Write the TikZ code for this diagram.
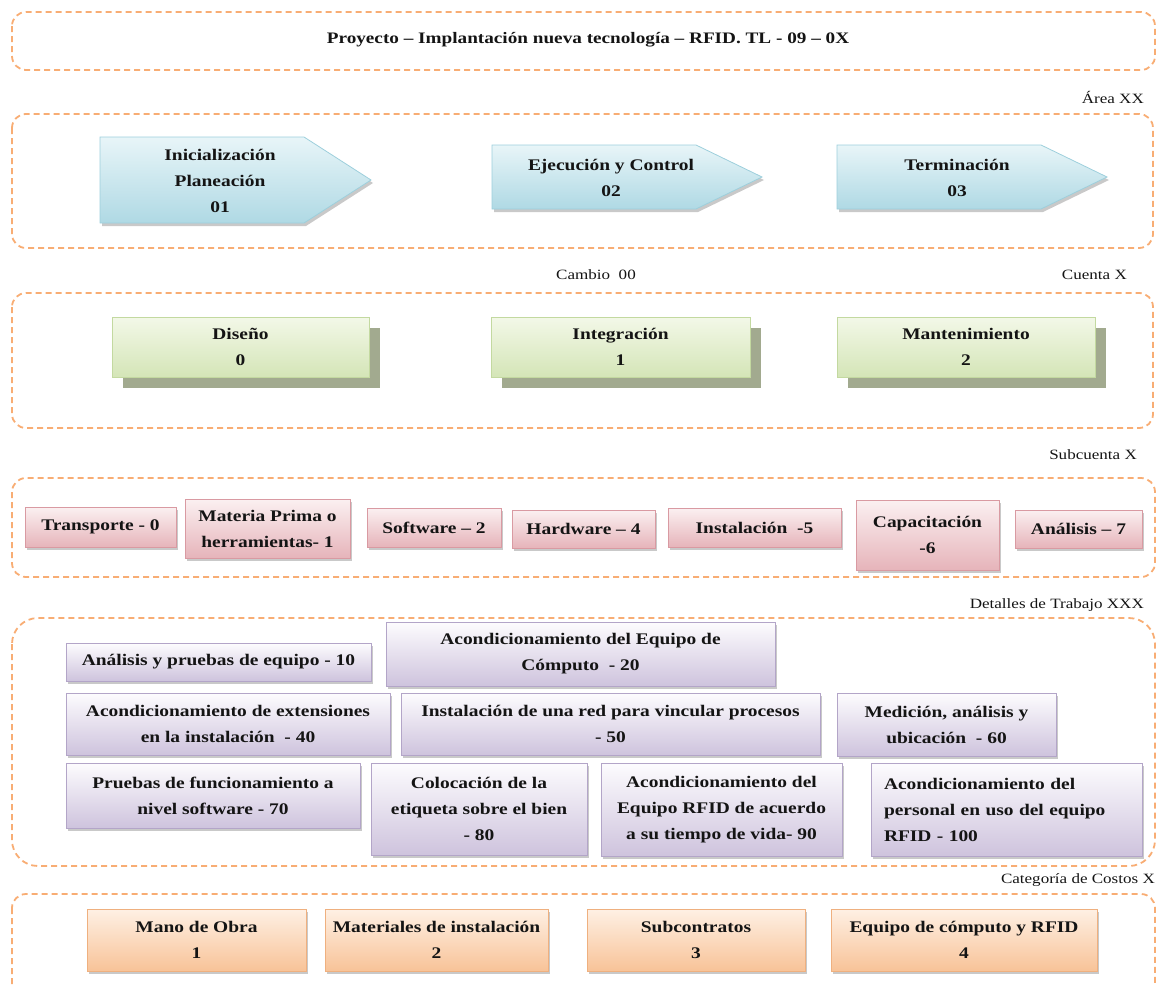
\documentclass[tikz,border=0pt]{standalone}
\usepackage{fontspec}
\setmainfont{Liberation Serif}[FakeStretch=1.2]
\usetikzlibrary{shadows}

\definecolor{bandorange}{HTML}{F8AD74}
\definecolor{inkc}{HTML}{141414}
\definecolor{bluetop}{HTML}{E8F5F8}
\definecolor{bluebot}{HTML}{AFD9E4}
\definecolor{blueline}{HTML}{9DCFDC}
\definecolor{greentop}{HTML}{F3F8E8}
\definecolor{greenbot}{HTML}{D4E5B7}
\definecolor{greenline}{HTML}{C3D9A0}
\definecolor{greenshade}{HTML}{A2AA8F}
\definecolor{pinktop}{HTML}{FBF0F1}
\definecolor{pinkbot}{HTML}{E6B4BA}
\definecolor{pinkline}{HTML}{D99AA2}
\definecolor{purptop}{HTML}{FDFCFE}
\definecolor{purpbot}{HTML}{CEC3DD}
\definecolor{purpline}{HTML}{B3A5C8}
\definecolor{orgtop}{HTML}{FEF0E4}
\definecolor{orgbot}{HTML}{F8C398}
\definecolor{orgline}{HTML}{EFB07F}

% box from its corners: style, name, x1, y1, x2, y2, text
\newcommand\wbsbox[7]{%
  \node[#1, minimum width={#5-#3}, minimum height={#6-#4}] (#2)
    at ({(#3+#5)/2},{(#4+#6)/2}) {#7};}

\tikzset{
  band/.style={draw=bandorange, line width=1.8pt, dash pattern=on 6pt off 4pt,
    rounded corners=14pt},
  boxtext/.style={font=\fontsize{16.2}{26}\selectfont\bfseries, text=inkc,
    align=center, inner sep=0pt},
  titletext/.style={boxtext, font=\fontsize{16}{26}\selectfont\bfseries},
  tag/.style={font=\fontsize{14.2}{16}\selectfont, text=inkc, inner sep=0pt},
  softshadow/.style={drop shadow={shadow xshift=2pt, shadow yshift=-3pt,
    opacity=0.3, fill=black!70}},
  bluechev/.style={top color=bluetop, bottom color=bluebot, draw=blueline,
    line width=0.8pt, softshadow},
  greenbox/.style={boxtext, top color=greentop, bottom color=greenbot,
    draw=greenline, line width=0.8pt,
    drop shadow={shadow xshift=11pt, shadow yshift=-11pt, fill=greenshade,
      opacity=1}},
  pinkbox/.style={boxtext, top color=pinktop, bottom color=pinkbot,
    draw=pinkline, line width=0.8pt, softshadow},
  purpbox/.style={boxtext, top color=purptop, bottom color=purpbot,
    draw=purpline, line width=0.8pt, softshadow},
  orgbox/.style={boxtext, top color=orgtop, bottom color=orgbot,
    draw=orgline, line width=0.8pt, softshadow},
}

\begin{document}
\begin{tikzpicture}[x=1pt, y=-1pt]
\useasboundingbox (0,0) rectangle (1158,985);
\clip (0,0) rectangle (1158,985);

% project
\draw[band] (12,12) rectangle (1155,70);
\node[titletext] (proyecto) at (588,40)
  {Proyecto – Implantación nueva tecnología – RFID. TL - 09 – 0X};

% phases
\node[tag, anchor=east] (area) at (1144,97) {Área XX};
\draw[band] (12,114) rectangle (1153,248);
\path[bluechev] (100,137) -- (304,137) -- (371,180) -- (304,223) -- (100,223) -- cycle;
\path[bluechev] (492,145) -- (696,145) -- (762,177) -- (696,209) -- (492,209) -- cycle;
\path[bluechev] (837,145) -- (1041,145) -- (1107,177) -- (1041,209) -- (837,209) -- cycle;
\node[boxtext] (fase1) at (220,181) {Inicialización\\Planeación\\01};
\node[boxtext] (fase2) at (611,178) {Ejecución y Control\\02};
\node[boxtext] (fase3) at (957,178) {Terminación\\03};

% accounts
\node[tag] (cambio) at (596,275) {Cambio\ \ 00};
\node[tag, anchor=east] (cuenta) at (1127,275) {Cuenta X};
\draw[band] (12,293) rectangle (1153,428);
\wbsbox{greenbox}{diseno}{112}{317}{369}{377}{Diseño\\0}
\wbsbox{greenbox}{integracion}{491}{317}{750}{377}{Integración\\1}
\wbsbox{greenbox}{mantenimiento}{837}{317}{1095}{377}{Mantenimiento\\2}

% sub-accounts
\node[tag, anchor=east] (subcuenta) at (1137,455) {Subcuenta X};
\draw[band] (12,478) rectangle (1155,577);
\wbsbox{pinkbox}{s0}{25}{507}{176}{547}{Transporte - 0}
\wbsbox{pinkbox}{s1}{185}{499}{350}{558}{Materia Prima o\\herramientas- 1}
\wbsbox{pinkbox}{s2}{367}{508}{501}{547}{Software – 2}
\wbsbox{pinkbox}{s4}{512}{510}{655}{548}{Hardware – 4}
\wbsbox{pinkbox}{s5}{668}{508}{841}{547}{Instalación~ -5}
\wbsbox{pinkbox}{s6}{856}{500}{999}{570}{Capacitación\\-6}
\wbsbox{pinkbox}{s7}{1015}{510}{1142}{548}{Análisis – 7}

% work details
\node[tag, anchor=east] (detalles) at (1144,605) {Detalles de Trabajo XXX};
\draw[band, rounded corners=26pt] (12,618) rectangle (1155,866);
\wbsbox{purpbox}{t10}{66}{643}{371}{681}{Análisis y pruebas de equipo - 10}
\wbsbox{purpbox}{t20}{386}{622}{775}{686}{Acondicionamiento del Equipo de\\Cómputo~ - 20}
\wbsbox{purpbox}{t40}{66}{693}{390}{755}{Acondicionamiento de extensiones\\en la instalación~ - 40}
\wbsbox{purpbox}{t50}{401}{693}{820}{755}{Instalación de una red para vincular procesos\\- 50}
\wbsbox{purpbox}{t60}{837}{693}{1056}{756}{Medición, análisis y\\ubicación~ - 60}
\wbsbox{purpbox}{t70}{66}{763}{360}{828}{Pruebas de funcionamiento a\\nivel software - 70}
\wbsbox{purpbox}{t80}{371}{763}{587}{855}{Colocación de la\\etiqueta sobre el bien\\- 80}
\wbsbox{purpbox}{t90}{601}{763}{842}{856}{Acondicionamiento del\\Equipo RFID de acuerdo\\a su tiempo de vida- 90}
\wbsbox{purpbox, align=left, text width=245pt}{t100}{871}{763}{1142}{856}%
  {Acondicionamiento del\\personal en uso del equipo\\RFID - 100}

% cost categories
\node[tag, anchor=east] (categoria) at (1155,880) {Categoría de Costos X};
\draw[band] (12,894) rectangle (1155,1010);
\wbsbox{orgbox}{c1}{87}{909}{306}{971}{Mano de Obra\\1}
\wbsbox{orgbox}{c2}{325}{909}{548}{971}{Materiales de instalación\\2}
\wbsbox{orgbox}{c3}{587}{909}{805}{971}{Subcontratos\\3}
\wbsbox{orgbox}{c4}{831}{909}{1097}{971}{Equipo de cómputo y RFID\\4}
\end{tikzpicture}
\end{document}
